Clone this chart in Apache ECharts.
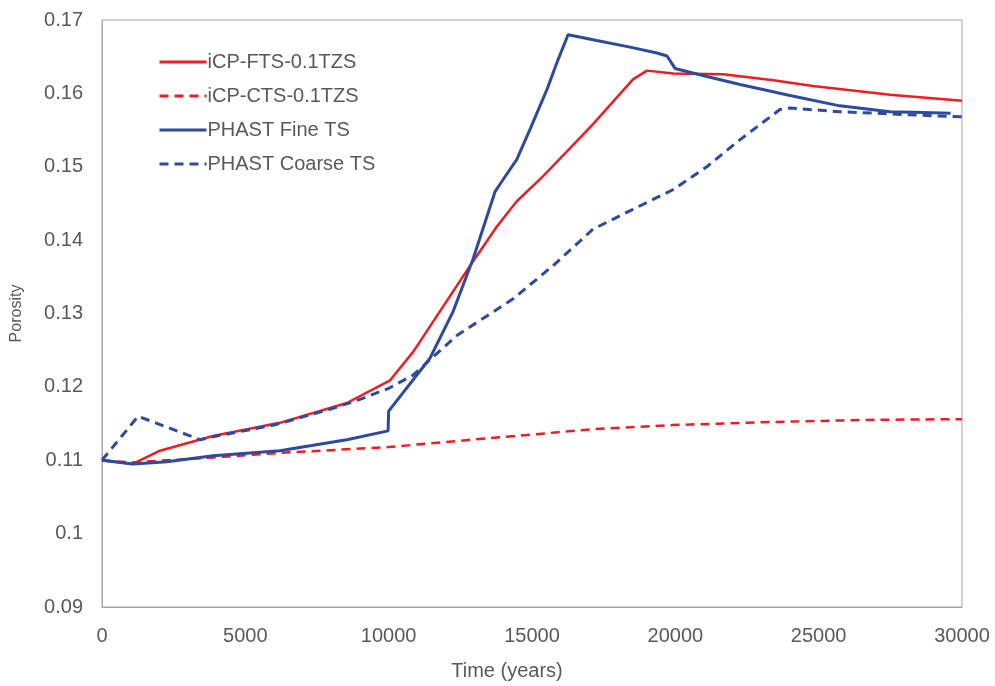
<!DOCTYPE html>
<html>
<head>
<meta charset="utf-8">
<script src="https://cdn.jsdelivr.net/npm/echarts@6/dist/echarts.min.js"></script>
<style>html,body{margin:0;padding:0;background:#fff}#c{width:995px;height:686px}</style>
</head>
<body>
<div id="c"></div>
<script>
const seriesNames = ['iCP-FTS-0.1TZS', 'iCP-CTS-0.1TZS', 'PHAST Fine TS', 'PHAST Coarse TS'];
const xTicks = [0, 5000, 10000, 15000, 20000, 25000, 30000];
const yTicks = [0.09, 0.10, 0.11, 0.12, 0.13, 0.14, 0.15, 0.16, 0.17];

const fineRedX = [0, 1080, 2020, 3870, 6200, 8540, 10050, 10860, 11550, 12840, 13780, 14470, 15380, 16220, 17130, 18520, 19010, 19930, 21670, 23420, 24800, 27490, 30000];
const fineRedY = [0.1100, 0.1095, 0.1113, 0.1133, 0.1151, 0.1178, 0.1209, 0.1248, 0.1289, 0.1365, 0.1419, 0.1453, 0.1487, 0.1521, 0.1558, 0.1619, 0.1631, 0.1627, 0.1626, 0.1618, 0.1610, 0.1598, 0.1590];

const coarseRedX = [0, 1000, 4000, 6200, 10000, 14060, 17370, 19920, 23190, 26680, 30000];
const coarseRedY = [0.1100, 0.1097, 0.1104, 0.1110, 0.1118, 0.1132, 0.1143, 0.1148, 0.1152, 0.1155, 0.1156];

const fineBlueX = [0, 1080, 2270, 3880, 6200, 8540, 9980, 10000, 11440, 12250, 12950, 13710, 14000, 14470, 14930, 15520, 15870, 16260, 17260, 18420, 19360, 19710, 19990, 21100, 22260, 24000, 25740, 27490, 28640, 29600];
const fineBlueY = [0.1100, 0.1095, 0.1098, 0.1106, 0.1113, 0.1128, 0.1140, 0.1167, 0.1239, 0.1303, 0.1375, 0.1466, 0.1483, 0.1510, 0.1551, 0.1605, 0.1642, 0.1680, 0.1672, 0.1663, 0.1655, 0.1651, 0.1634, 0.1623, 0.1612, 0.1597, 0.1583, 0.1575, 0.1574, 0.1573];

const coarseBlueX = [0, 1260, 3420, 4000, 6000, 8000, 9000, 10000, 10850, 12380, 14340, 15730, 17130, 18520, 19930, 21100, 22260, 23650, 24000, 25740, 28080, 30000];
const coarseBlueY = [0.1100, 0.1160, 0.1128, 0.1133, 0.1148, 0.1170, 0.1183, 0.1198, 0.1216, 0.1270, 0.1320, 0.1365, 0.1415, 0.1442, 0.1469, 0.1500, 0.1537, 0.1578, 0.1580, 0.1575, 0.1571, 0.1568];

const zip = (xs, ys) => xs.map((x, i) => [x, ys[i]]);
const RED = '#ee1c25';
const BLUE = '#2e4a9c';
const TXT = '#595959';
const FONT = 'Liberation Sans, Arial, sans-serif';

const chart = echarts.init(document.getElementById('c'), null, {renderer: 'canvas'});
function mk(name, xs, ys, color, width, type) {
  return {
    name: name, type: 'line', data: zip(xs, ys), symbol: 'none', smooth: false,
    lineStyle: {color: color, width: width, type: type === 'dashed' ? [9, 6] : 'solid'},
    itemStyle: {color: color}, animation: false
  };
}
chart.setOption({
  animation: false,
  backgroundColor: '#fff',
  grid: {left: 102, right: 33, top: 20, bottom: 76, show: true, borderColor: '#a6a6a6', borderWidth: 1},
  legend: {
    left: 153, top: 47, orient: 'vertical', itemGap: 14, itemWidth: 47, itemHeight: 14,
    itemStyle: {opacity: 0},
    lineStyle: {width: 3},
    textStyle: {color: TXT, fontSize: 20, fontFamily: FONT, padding: [0, 0, 0, -4]},
    data: seriesNames
  },
  xAxis: {
    type: 'value', min: xTicks[0], max: xTicks[xTicks.length - 1], interval: 5000,
    name: 'Time (years)', nameLocation: 'middle', nameGap: 54,
    nameTextStyle: {color: TXT, fontSize: 20, fontFamily: FONT, padding: [0, 50, 0, 0]},
    axisLine: {show: true, lineStyle: {color: '#a6a6a6', width: 1}},
    axisTick: {show: false}, splitLine: {show: false},
    axisLabel: {color: TXT, fontSize: 20, margin: 19, fontFamily: FONT, formatter: v => String(v)}
  },
  yAxis: {
    type: 'value', min: yTicks[0], max: yTicks[yTicks.length - 1], interval: 0.01,
    name: 'Porosity', nameLocation: 'middle', nameGap: 77, nameRotate: 90,
    nameTextStyle: {color: TXT, fontSize: 16, fontFamily: FONT},
    axisLine: {show: true, lineStyle: {color: '#a6a6a6', width: 1}},
    axisTick: {show: false}, splitLine: {show: false},
    axisLabel: {color: TXT, fontSize: 20, margin: 19, fontFamily: FONT,
      formatter: v => String(+v.toFixed(2))}
  },
  series: [
    mk(seriesNames[0], fineRedX, fineRedY, RED, 2.5, 'solid'),
    mk(seriesNames[1], coarseRedX, coarseRedY, RED, 2.5, 'dashed'),
    mk(seriesNames[2], fineBlueX, fineBlueY, BLUE, 3, 'solid'),
    mk(seriesNames[3], coarseBlueX, coarseBlueY, BLUE, 3, 'dashed')
  ]
});
</script>
</body>
</html>
